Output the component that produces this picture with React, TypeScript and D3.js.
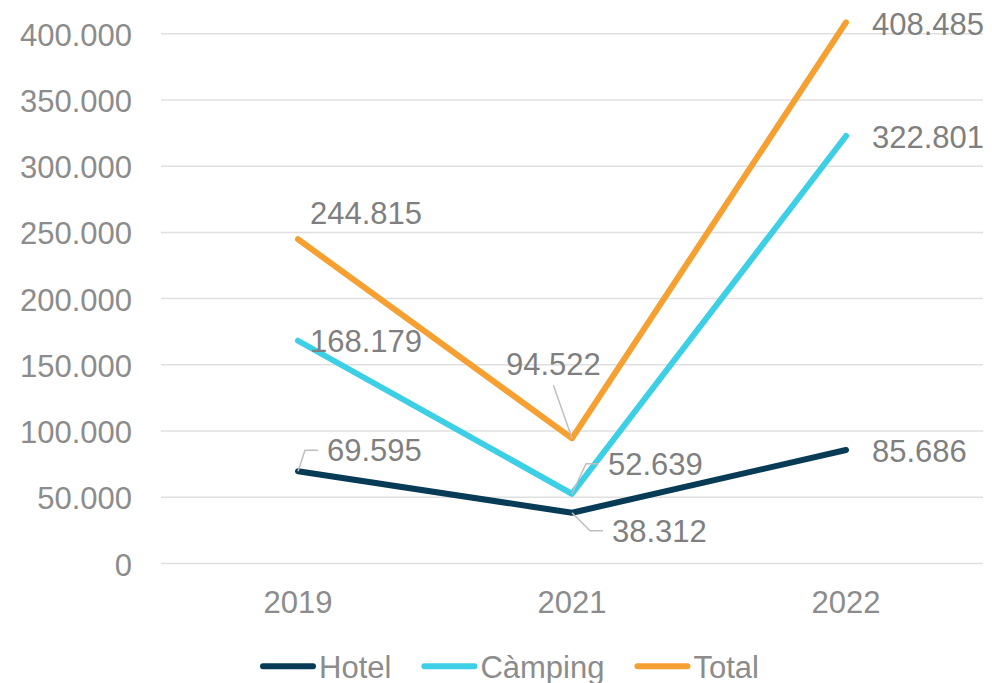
import React, { useEffect, useRef } from "react";
import * as d3 from "d3";

// years on the x axis
const years = ["2019", "2021", "2022"];

// series values
const hotel = [69595, 38312, 85686];
const camping = [168179, 52639, 322801];
const total = [244815, 94522, 408485];

const seriesNames = ["Hotel", "Càmping", "Total"];
const yTicks = [0, 50000, 100000, 150000, 200000, 250000, 300000, 350000, 400000];

// where each value label sits relative to its point (text left/centre)
const labelLayout = [
  [{ dx: 29, dy: -21, leader: "elbow" }, { dx: 40, dy: 18, leader: "elbow" }, { dx: 26, dy: 1, leader: "" }],
  [{ dx: 12, dy: 0, leader: "" }, { dx: 36, dy: -30, leader: "elbow" }, { dx: 26, dy: 1, leader: "" }],
  [{ dx: 12, dy: -26, leader: "" }, { dx: -66, dy: -74, leader: "straight" }, { dx: 26, dy: 2, leader: "" }],
];

const colors = ["#073b56", "#3ccfe6", "#f5a031"];
const FONT = "'Liberation Sans', Arial, sans-serif";

const fmt = (v: number) => d3.format(",")(v).replace(/,/g, ".");

const App = () => {
  const ref = useRef<SVGSVGElement>(null);

  useEffect(() => {
    document.body.style.margin = "0";
    const svg = d3.select(ref.current);
    svg.selectAll("*").remove();

    const width = 992;
    const height = 683;
    const margin = { left: 161, right: 9, top: 33.7, bottom: 119.5 };

    const x = d3
      .scalePoint()
      .domain(years)
      .range([margin.left, width - margin.right])
      .padding(0.5);

    const y = d3
      .scaleLinear()
      .domain([0, 400000])
      .range([height - margin.bottom, margin.top]);

    //gridlines
    svg
      .append("g")
      .selectAll("line")
      .data(yTicks)
      .enter()
      .append("line")
      .attr("x1", margin.left)
      .attr("x2", width - margin.right)
      .attr("y1", (d) => y(d))
      .attr("y2", (d) => y(d))
      .attr("stroke", "#e0e0e0")
      .attr("stroke-width", 1.5);

    //y labels
    svg
      .append("g")
      .selectAll("text")
      .data(yTicks)
      .enter()
      .append("text")
      .attr("x", 132)
      .attr("y", (d) => y(d) + 12)
      .attr("text-anchor", "end")
      .attr("font-family", FONT)
      .attr("font-size", 31)
      .attr("fill", "#8c8c8c")
      .text((d) => (d === 0 ? "0" : fmt(d)));

    //x labels
    svg
      .append("g")
      .selectAll("text")
      .data(years)
      .enter()
      .append("text")
      .attr("x", (d) => x(d)!)
      .attr("y", 613)
      .attr("text-anchor", "middle")
      .attr("font-family", FONT)
      .attr("font-size", 31)
      .attr("fill", "#8c8c8c")
      .text((d) => d);

    const series = [hotel, camping, total];
    const line = d3
      .line<number>()
      .x((_, i) => x(years[i])!)
      .y((d) => y(d));

    //lines
    svg
      .append("g")
      .selectAll("path")
      .data(series)
      .enter()
      .append("path")
      .attr("d", (d) => line(d))
      .attr("fill", "none")
      .attr("stroke", (_, i) => colors[i])
      .attr("stroke-width", 6)
      .attr("stroke-linecap", "round")
      .attr("stroke-linejoin", "round");

    //value labels + leaders
    const lab = svg.append("g");
    series.forEach((vals, s) => {
      vals.forEach((v, i) => {
        const px = x(years[i])!;
        const py = y(v);
        const L = labelLayout[s][i];
        const tx = px + L.dx;
        const ty = py + L.dy;
        const t = lab
          .append("text")
          .attr("x", tx)
          .attr("y", ty + 11)
          .attr("font-family", FONT)
          .attr("font-size", 31)
          .attr("fill", "#7f7f7f")
          .text(fmt(v));
        if (L.leader === "elbow") {
          lab
            .append("path")
            .attr("d", `M${px},${py}L${tx - 22},${ty}L${tx - 9},${ty}`)
            .attr("fill", "none")
            .attr("stroke", "#bfbfbf")
            .attr("stroke-width", 1.5);
        } else if (L.leader === "straight") {
          const w = (t.node() as SVGTextElement).getComputedTextLength();
          lab
            .append("path")
            .attr("d", `M${px},${py}L${tx + w / 2},${ty + 21}`)
            .attr("fill", "none")
            .attr("stroke", "#bfbfbf")
            .attr("stroke-width", 1.5);
        }
      });
    });

    //legend
    const leg = svg.append("g");
    let lx = 263;
    const ly = 666.3;
    seriesNames.forEach((name, i) => {
      leg
        .append("line")
        .attr("x1", lx)
        .attr("x2", lx + 50)
        .attr("y1", ly)
        .attr("y2", ly)
        .attr("stroke", colors[i])
        .attr("stroke-width", 6)
        .attr("stroke-linecap", "round");
      const t = leg
        .append("text")
        .attr("x", lx + 56)
        .attr("y", 678)
        .attr("font-family", FONT)
        .attr("font-size", 31)
        .attr("fill", "#8c8c8c")
        .text(name);
      const w = (t.node() as SVGTextElement).getComputedTextLength();
      lx = lx + 56 + w + 33;
    });
  }, []);

  return (
    <svg
      ref={ref}
      width={992}
      height={683}
      style={{ display: "block", background: "#fff" }}
    />
  );
};

export default App;
